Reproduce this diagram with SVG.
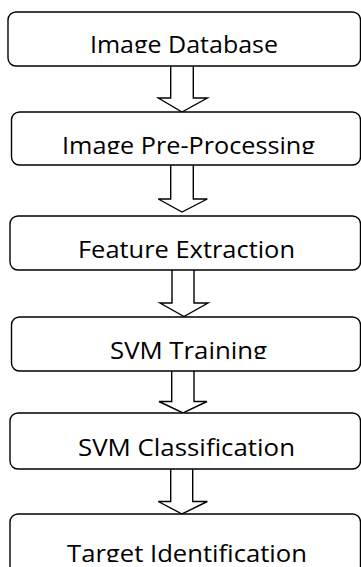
<svg xmlns="http://www.w3.org/2000/svg" width="361" height="567" viewBox="0 0 361 567">
<style>
.box{fill:#fff;stroke:#000;stroke-width:1.4}
.lbl{font-family:"Open Sans","Liberation Sans",sans-serif;font-size:23.5px;fill:#000;text-anchor:middle}
.arr{fill:#fff;stroke:#000;stroke-width:1.4;stroke-linejoin:miter}
</style>
<defs>
<clipPath id="c1"><rect x="0" y="0" width="361" height="53"/></clipPath>
<clipPath id="c2"><rect x="0" y="100" width="361" height="54"/></clipPath>
<clipPath id="c4"><rect x="0" y="320" width="361" height="39"/></clipPath>
<clipPath id="c6"><rect x="0" y="520" width="361" height="42"/></clipPath>
</defs>
<rect width="361" height="567" fill="#fff"/>
<g id="connectors">
<path class="arr" d="M170.7,66 V98 H158.3 L182,112 L207.3,98 H193.3 V66"/>
<path class="arr" d="M170.7,165 V199 H158.3 L182,212 L207.3,199 H193.3 V165"/>
<path class="arr" d="M172,270 V303 H160 L184,316.5 L208,303 H194 V270"/>
<path class="arr" d="M171.7,371 V401.5 H159 L183,413 L207,401.5 H194 V371"/>
<path class="arr" d="M170.7,469 V501.5 H158.3 L182,514 L207.3,501.5 H192.7 V469"/>
</g>
<g id="n1">
<rect class="box" x="8" y="12" width="352.5" height="54" rx="8"/>
<text class="lbl" x="184" y="52.5" textLength="188" lengthAdjust="spacingAndGlyphs" clip-path="url(#c1)">Image Database</text>
</g>
<g id="n2">
<rect class="box" x="11.5" y="112" width="349" height="53" rx="8"/>
<text class="lbl" x="188.5" y="153.5" textLength="253" lengthAdjust="spacingAndGlyphs" clip-path="url(#c2)">Image Pre-Processing</text>
</g>
<g id="n3">
<rect class="box" x="10" y="216" width="350.5" height="54" rx="8"/>
<text class="lbl" x="186.5" y="257.5" textLength="217" lengthAdjust="spacingAndGlyphs">Feature Extraction</text>
</g>
<g id="n4">
<rect class="box" x="11.5" y="317" width="349" height="54" rx="8"/>
<text class="lbl" x="188.5" y="358.5" textLength="157" lengthAdjust="spacingAndGlyphs" clip-path="url(#c4)">SVM Training</text>
</g>
<g id="n5">
<rect class="box" x="10" y="413" width="350.5" height="56" rx="8"/>
<text class="lbl" x="186.5" y="455.5" textLength="217" lengthAdjust="spacingAndGlyphs">SVM Classification</text>
</g>
<g id="n6">
<rect class="box" x="10" y="514" width="350.5" height="60" rx="8"/>
<text class="lbl" x="187" y="562" textLength="240" lengthAdjust="spacingAndGlyphs" clip-path="url(#c6)">Target Identification</text>
</g>
</svg>
